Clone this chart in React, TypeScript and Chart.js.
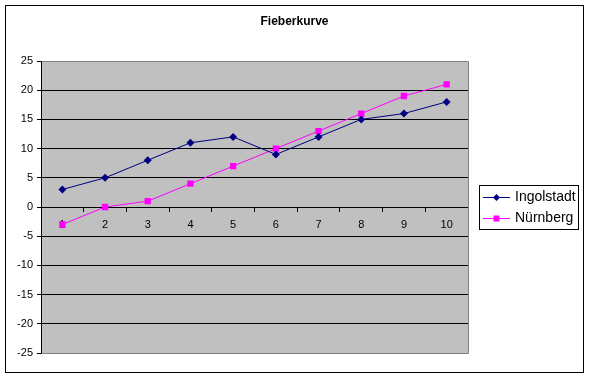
import React, { useEffect, useRef } from "react";
import { Chart, registerables } from "chart.js";

Chart.register(...registerables);

const categories = ["1", "2", "3", "4", "5", "6", "7", "8", "9", "10"];
const ingolstadt = [3, 5, 8, 11, 12, 9, 12, 15, 16, 18];
const nuernberg = [-3, 0, 1, 4, 7, 10, 13, 16, 19, 21];
const seriesNames = ["Ingolstadt", "Nürnberg"];
const seriesColors = ["#000080", "#FF00FF"];
const yMin = -25;
const yMax = 25;
const yStep = 5;
const title = "Fieberkurve";

const FONT = "'Liberation Sans', Arial, sans-serif";

const framePlugin = {
  id: "frame",
  beforeDraw(chart: any) {
    const { ctx, chartArea: a } = chart;
    ctx.save();
    ctx.fillStyle = "#ffffff";
    ctx.fillRect(0, 0, chart.width, chart.height);
    ctx.strokeStyle = "#000000";
    ctx.lineWidth = 1;
    ctx.strokeRect(5.5, 5.5, 578, 367);
    ctx.fillStyle = "#C0C0C0";
    ctx.fillRect(a.left, a.top, a.right - a.left, a.bottom - a.top);
    // title
    ctx.fillStyle = "#000000";
    ctx.font = `bold 12px ${FONT}`;
    ctx.textAlign = "center";
    ctx.textBaseline = "middle";
    ctx.fillText(title, chart.width / 2, 22);
    ctx.restore();
  },
  beforeDatasetsDraw(chart: any) {
    const { ctx, chartArea: a } = chart;
    ctx.save();
    ctx.strokeStyle = "#808080";
    ctx.lineWidth = 1;
    ctx.beginPath();
    ctx.moveTo(Math.round(a.left) + 0.5, Math.round(a.top) + 0.5);
    ctx.lineTo(Math.round(a.right) + 0.5, Math.round(a.top) + 0.5);
    ctx.lineTo(Math.round(a.right) + 0.5, Math.round(a.bottom) + 0.5);
    ctx.lineTo(Math.round(a.left) + 0.5, Math.round(a.bottom) + 0.5);
    ctx.stroke();
    ctx.restore();
  },
  afterDraw(chart: any) {
    const { ctx } = chart;
    ctx.save();
    const bx = 479.5, by = 185.5, bw = 99, bh = 44;
    ctx.fillStyle = "#ffffff";
    ctx.fillRect(bx, by, bw, bh);
    ctx.strokeStyle = "#000000";
    ctx.lineWidth = 1;
    ctx.strokeRect(bx, by, bw, bh);
    const rows = [197, 218];
    seriesNames.forEach((name, i) => {
      const y = rows[i] + 0.5;
      ctx.strokeStyle = seriesColors[i];
      ctx.lineWidth = 1;
      ctx.beginPath();
      ctx.moveTo(483, y);
      ctx.lineTo(510, y);
      ctx.stroke();
      ctx.fillStyle = seriesColors[i];
      const cx = 496.5;
      if (i === 0) {
        ctx.beginPath();
        ctx.moveTo(cx, y - 3.5);
        ctx.lineTo(cx + 3.5, y);
        ctx.lineTo(cx, y + 3.5);
        ctx.lineTo(cx - 3.5, y);
        ctx.closePath();
        ctx.fill();
      } else {
        ctx.fillRect(cx - 3, y - 3, 6, 6);
      }
      ctx.fillStyle = "#000000";
      ctx.font = `14px ${FONT}`;
      ctx.textBaseline = "middle";
      ctx.textAlign = "left";
      ctx.fillText(name, 515, y);
    });
    ctx.restore();
  },
};

export default function App() {
  const ref = useRef<HTMLCanvasElement | null>(null);
  useEffect(() => {
    document.body.style.margin = "0";
    const canvas = ref.current;
    if (!canvas) return;
    const chart = new Chart(canvas, {
      type: "line",
      data: {
        labels: categories,
        datasets: [
          {
            label: seriesNames[0],
            data: ingolstadt,
            borderColor: seriesColors[0],
            backgroundColor: seriesColors[0],
            borderWidth: 1,
            pointStyle: "rectRot",
            pointRadius: 4,
            pointBorderWidth: 0,
            tension: 0,
          },
          {
            label: seriesNames[1],
            data: nuernberg,
            borderColor: seriesColors[1],
            backgroundColor: seriesColors[1],
            borderWidth: 1,
            pointStyle: "rect",
            pointRadius: 4.5,
            pointBorderWidth: 0,
            tension: 0,
          },
        ],
      },
      options: {
        animation: false,
        responsive: false,
        devicePixelRatio: 1,
        layout: { padding: { left: 5, right: 121, top: 61, bottom: 25 } },
        plugins: {
          legend: { display: false },
          tooltip: { enabled: false },
          title: { display: false },
        },
        scales: {
          x: {
            type: "category",
            position: { y: 0 } as any,
            offset: true,
            afterFit: (s: any) => {
              s.height = 0;
            },
            grid: {
              offset: true,
              drawOnChartArea: false,
              drawTicks: true,
              tickLength: 4,
              color: "#000000",
              tickColor: "#000000",
            },
            border: { display: true, color: "#000000", width: 1 },
            ticks: {
              color: "#000000",
              font: { family: FONT, size: 11 },
              padding: 7,
              maxRotation: 0,
              autoSkip: false,
            },
          },
          y: {
            min: yMin,
            max: yMax,
            afterFit: (s: any) => {
              s.width = 36;
            },
            grid: {
              color: (c: any) =>
                c.tick && (c.tick.value === yMin || c.tick.value === yMax) ? "rgba(0,0,0,0)" : "#000000",
              tickColor: "#000000",
              tickLength: 4,
              lineWidth: 1,
            },
            border: { display: true, color: "#000000", width: 1 },
            ticks: {
              stepSize: yStep,
              color: "#000000",
              font: { family: FONT, size: 11 },
              padding: 4,
            },
          },
        },
      },
      plugins: [framePlugin],
    });
    return () => chart.destroy();
  }, []);
  return (
    <div style={{ position: "fixed", left: 0, top: 0, width: 589, height: 378 }}>
      <canvas ref={ref} width={589} height={378} style={{ width: 589, height: 378 }} />
    </div>
  );
}
